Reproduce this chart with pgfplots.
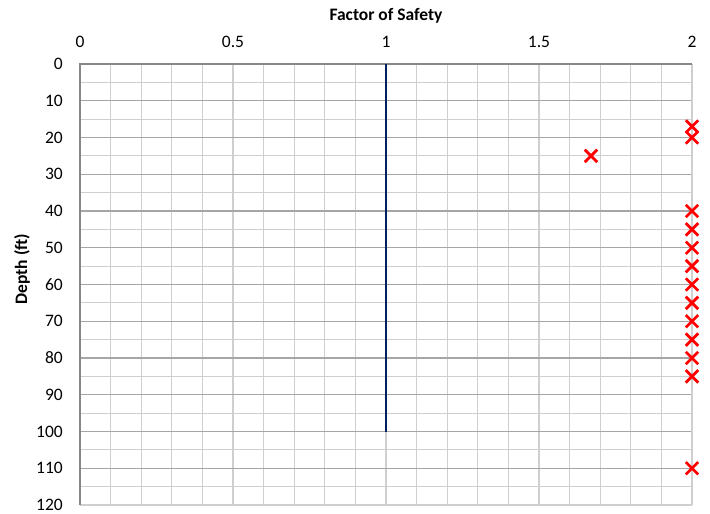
\documentclass[border=0pt]{standalone}
\usepackage{pgfplots}
\pgfplotsset{compat=1.18}
\usepackage{fontspec}
\setmainfont{Carlito}
\definecolor{navy}{HTML}{002060}
\definecolor{gmaj}{HTML}{A6A6A6}
\definecolor{gmin}{HTML}{CFCFCF}
\definecolor{frameD}{HTML}{878787}
\begin{document}
\fontsize{17.5}{21}\selectfont
\begin{tikzpicture}
\useasboundingbox (-80pt,-9pt) rectangle (630pt,505pt);
\begin{axis}[
  scale only axis, width=612pt, height=441pt,
  xmin=0, xmax=2, ymin=0, ymax=120, y dir=reverse,
  xtick={0,0.5,1,1.5,2}, xticklabels={0,0.5,1,1.5,2},
  ytick={0,10,...,120},
  minor x tick num=4, minor y tick num=1,
  xticklabel pos=upper,
  major tick length=0pt, minor tick length=0pt,
  grid=both,
  major x grid style={gmin, line width=1.1pt},
  minor x grid style={gmin, line width=1.1pt},
  major y grid style={gmaj, line width=1.1pt},
  minor y grid style={gmin, line width=1.1pt},
  axis line style={draw=none},
  /pgf/number format/assume math mode=true,
  ticklabel style={font=\fontsize{17.5}{21}\selectfont},
  xticklabel style={anchor=base, inner sep=0pt, yshift=17pt},
  yticklabel style={anchor=east, inner sep=0pt, xshift=-17pt},
  clip=false,
]
\draw[gmin, line width=1.2pt] (rel axis cs:1,0) -- (rel axis cs:1,1);
\draw[gmin, line width=1.2pt] (axis cs:0,120) -- (axis cs:2,120);
\draw[frameD, line width=1.4pt] (axis cs:0,120) -- (axis cs:0,0) -- (axis cs:2,0);
\addplot[navy, line width=2.8pt, no marks] coordinates {(1,0) (1,100)};
\addplot[only marks, mark=x, mark size=8.8pt, red, mark options={line width=2.8pt}] coordinates {
(2,17) (2,20) (1.67,25) (2,40) (2,45) (2,50) (2,55) (2,60) (2,65) (2,70) (2,75) (2,80) (2,85) (2,110)};
\end{axis}
\node[font=\bfseries\fontsize{17.5}{21}\selectfont, anchor=base] at (306pt,484pt) {Factor of Safety};
\node[font=\bfseries\fontsize{17.5}{21}\selectfont, rotate=90, anchor=center] at (-58pt,236pt) {Depth (ft)};
\end{tikzpicture}
\end{document}
